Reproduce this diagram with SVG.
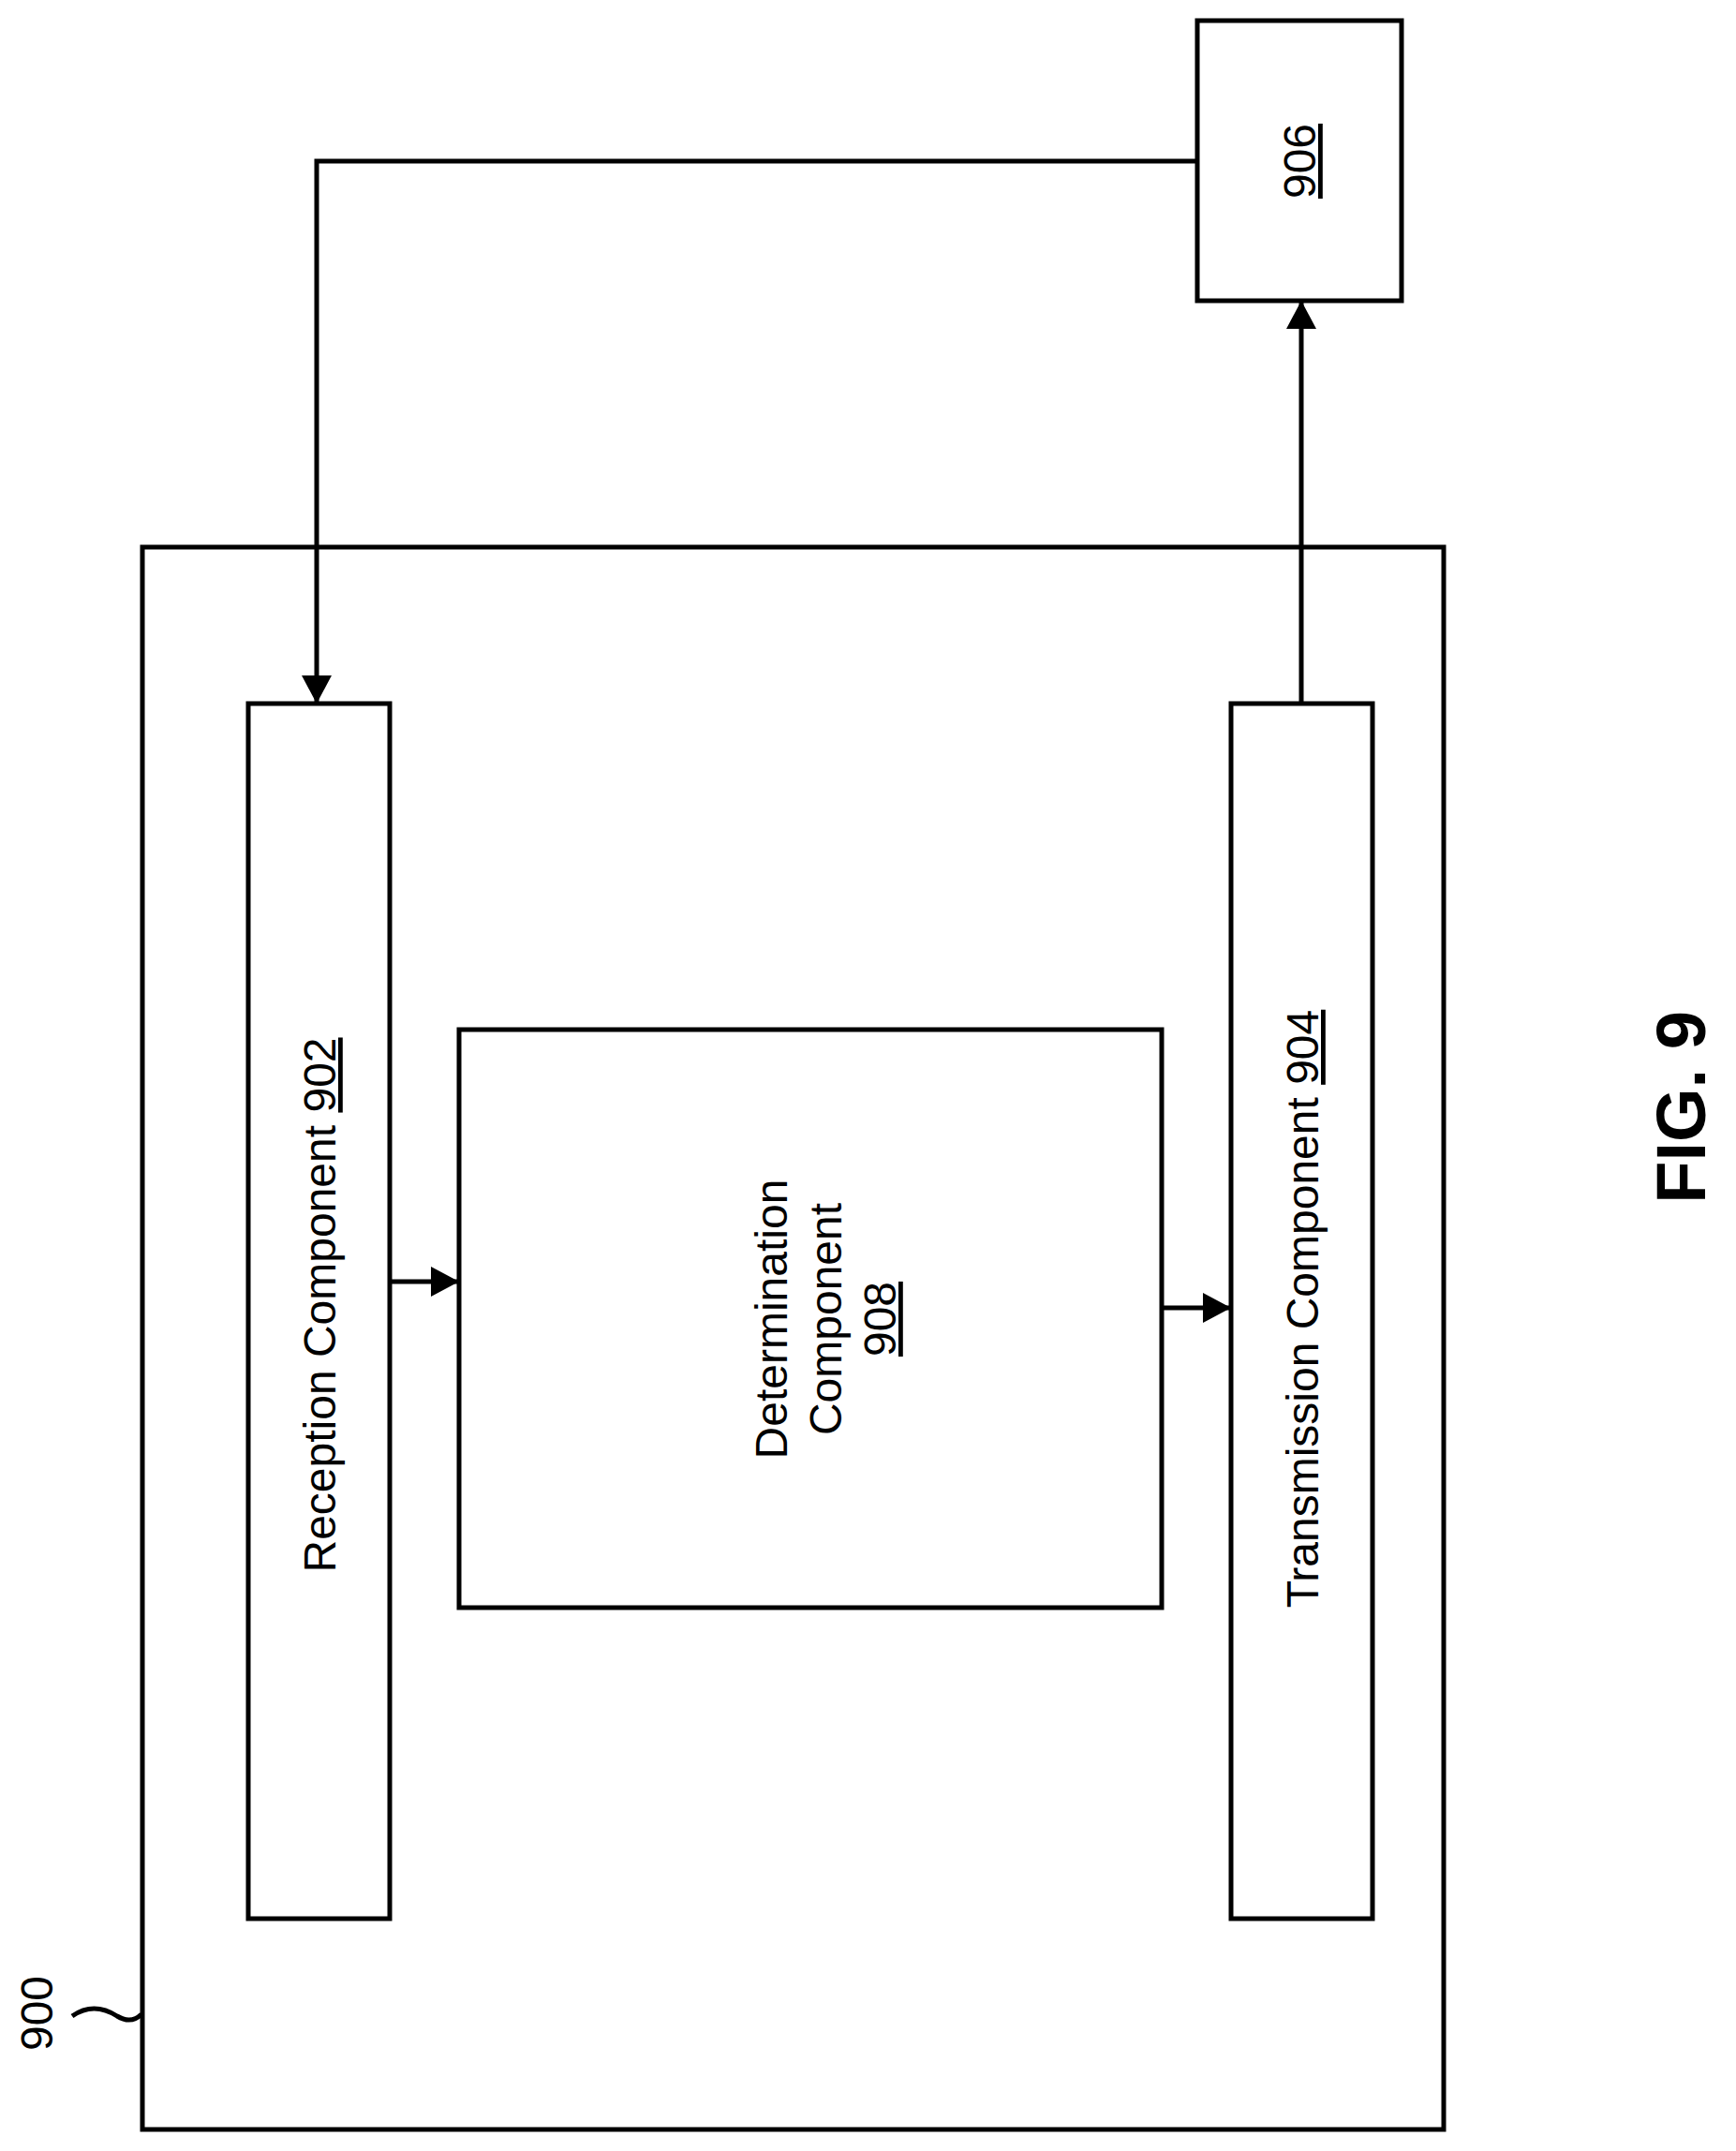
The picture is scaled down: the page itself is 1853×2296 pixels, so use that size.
<svg xmlns="http://www.w3.org/2000/svg" width="1853" height="2296" viewBox="0 0 1853 2296">
<style>
.b{fill:#fff;stroke:#000;stroke-width:5}
.l{fill:none;stroke:#000;stroke-width:5}
.t{font-family:"Liberation Sans",Arial,sans-serif;font-size:48px;fill:#000}
</style>
<defs><marker id="a" markerUnits="userSpaceOnUse" markerWidth="32" markerHeight="32" refX="30" refY="16" orient="auto"><path d="M0,0 L30,16 L0,32 Z" fill="#000"/></marker></defs>
<rect width="1853" height="2296" fill="#fff"/>
<g id="n900"><rect class="b" x="152" y="584" width="1389" height="1689"/>
<text class="t" transform="translate(56,2149) rotate(-90)" text-anchor="middle">900</text>
<path class="l" d="M77,2152 Q100,2136 125,2152 Q140,2161 151,2150"/></g>
<g id="n906"><rect class="b" x="1278" y="22" width="218" height="299"/>
<text class="t" transform="translate(1404,172) rotate(-90)" text-anchor="middle" text-decoration="underline">906</text></g>
<g id="n902"><rect class="b" x="265" y="751" width="151" height="1297"/>
<text class="t" transform="translate(358,1393) rotate(-90)" text-anchor="middle">Reception Component <tspan text-decoration="underline">902</tspan></text></g>
<g id="n908"><rect class="b" x="490" y="1099" width="750" height="617"/>
<text class="t" transform="translate(840,1408) rotate(-90)" text-anchor="middle">Determination</text>
<text class="t" transform="translate(898,1408) rotate(-90)" text-anchor="middle">Component</text>
<text class="t" transform="translate(956,1408) rotate(-90)" text-anchor="middle" text-decoration="underline">908</text></g>
<g id="n904"><rect class="b" x="1314" y="751" width="151" height="1297"/>
<text class="t" transform="translate(1407,1397) rotate(-90)" text-anchor="middle">Transmission Component <tspan text-decoration="underline">904</tspan></text></g>
<g id="connectors">
<path class="l" d="M1278,172 H338 V751" marker-end="url(#a)"/>
<path class="l" d="M1389,751 V321" marker-end="url(#a)"/>
<path class="l" d="M416,1368 H490" marker-end="url(#a)"/>
<path class="l" d="M1240,1396 H1314" marker-end="url(#a)"/>
</g>
<text transform="translate(1820,1182) rotate(-90)" text-anchor="middle" font-family="Liberation Sans,Arial,sans-serif" font-weight="bold" font-size="74">FIG. 9</text>
</svg>
